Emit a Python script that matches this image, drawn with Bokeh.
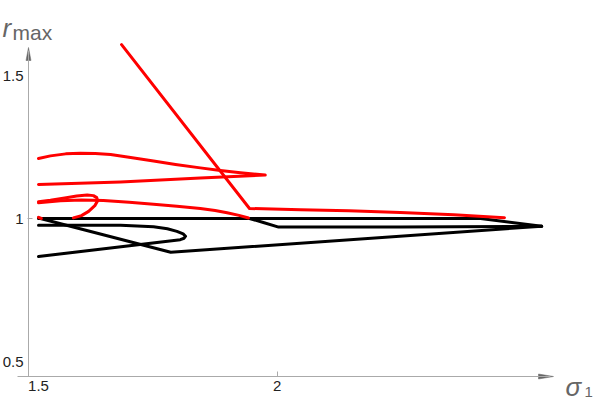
from bokeh.plotting import figure
from bokeh.models import Range1d, LinearAxis, FixedTicker, Label, CustomJSTickFormatter
from bokeh.embed import file_html
from bokeh.resources import INLINE

# ---------------- data (sigma_1, r_max) ----------------
# red curves
red_steep_x = [1.674, 1.942, 2.049, 2.150, 2.258, 2.370, 2.476]
red_steep_y = [1.608, 1.035, 1.031, 1.027, 1.021, 1.013, 1.003]

red_fish_x = [1.500, 1.525, 1.557, 1.588, 1.619, 1.651, 1.693, 1.741, 1.787, 1.839, 1.881,
              1.923, 1.975, 1.839, 1.672, 1.500]
red_fish_y = [1.210, 1.219, 1.226, 1.228, 1.227, 1.224, 1.213, 1.201, 1.189, 1.177, 1.168,
              1.160, 1.152, 1.142, 1.128, 1.119]

red_loop_x = [1.500, 1.525, 1.555, 1.580, 1.602, 1.615, 1.622, 1.624, 1.618, 1.605, 1.590, 1.573]
red_loop_y = [1.059, 1.064, 1.072, 1.079, 1.082, 1.080, 1.073, 1.062, 1.045, 1.025, 1.010, 1.002]

red_long_x = [1.500, 1.546, 1.590, 1.636, 1.690, 1.741, 1.790, 1.839, 1.870, 1.895, 1.920, 1.940]
red_long_y = [1.055, 1.062, 1.065, 1.063, 1.057, 1.050, 1.043, 1.035, 1.028, 1.020, 1.011, 1.002]

red_dot_x = [1.500, 1.506]
red_dot_y = [1.004, 1.000]

# black curves
black_flat_x = [1.500, 2.426, 2.554]
black_flat_y = [1.000, 1.000, 0.973]

black_kink_x = [1.942, 1.971, 2.003, 2.258, 2.554]
black_kink_y = [1.000, 0.986, 0.970, 0.970, 0.973]

black_v_x = [1.500, 1.777, 2.554]
black_v_y = [1.002, 0.882, 0.973]

black_loop_x = [1.500, 1.672, 1.741, 1.770, 1.790, 1.803, 1.808, 1.805, 1.797, 1.500]
black_loop_y = [0.976, 0.976, 0.971, 0.964, 0.955, 0.946, 0.938, 0.931, 0.926, 0.867]

x_ticks = [1.5, 2.0]
y_ticks = [0.5, 1.0, 1.5]

# ---------------- layout helpers (page pixels -> data) ----------------
PX_X = 477.4   # pixels per unit of sigma
PX_Y = 286.0   # pixels per unit of r
W, H = 598, 400


def sx(page_x):
    return 1.5 + (page_x - 38) / PX_X


def sy(page_y):
    return 1.0 - (page_y - 218) / PX_Y


p = figure(width=W, height=H,
           x_range=Range1d(sx(0), sx(W)), y_range=Range1d(sy(H), sy(0)),
           x_axis_type=None, y_axis_type=None,
           toolbar_location=None, output_backend="svg", min_border=0)
p.outline_line_color = None
p.background_fill_color = "white"
p.border_fill_color = "white"

AX_COL = "#aaaaaa"
FONT = "Liberation Sans"
fmt = CustomJSTickFormatter(code="return tick.toString()")

y_axis_x = sx(28)
x_axis_y = sy(376)

# y axis: line + tick
ya = LinearAxis(fixed_location=y_axis_x, ticker=FixedTicker(ticks=[1.0]),
                bounds=(x_axis_y, sy(50)), axis_line_color=AX_COL,
                major_tick_in=4, major_tick_out=1, major_tick_line_color=AX_COL,
                minor_tick_line_color=None, formatter=CustomJSTickFormatter(code="return ''"))
p.add_layout(ya, "left")
# y axis labels
yl = LinearAxis(fixed_location=y_axis_x, ticker=FixedTicker(ticks=y_ticks),
                axis_line_color=None, major_tick_line_color=None, minor_tick_line_color=None,
                major_tick_in=0, major_tick_out=0, major_label_standoff=5,
                major_label_text_font=FONT, major_label_text_font_size="15px",
                major_label_text_color="#222222", formatter=fmt)
p.add_layout(yl, "left")

# x axis: line + tick
xa = LinearAxis(fixed_location=x_axis_y, ticker=FixedTicker(ticks=[2.0]),
                bounds=(sx(17), sx(550)), axis_line_color=AX_COL,
                major_tick_in=5, major_tick_out=0, major_tick_line_color=AX_COL,
                minor_tick_line_color=None, formatter=CustomJSTickFormatter(code="return ''"))
p.add_layout(xa, "below")
xl = LinearAxis(fixed_location=x_axis_y, ticker=FixedTicker(ticks=x_ticks),
                axis_line_color=None, major_tick_line_color=None, minor_tick_line_color=None,
                major_tick_in=0, major_tick_out=0, major_label_standoff=4,
                major_label_text_font=FONT, major_label_text_font_size="15px",
                major_label_text_color="#222222", formatter=fmt)
p.add_layout(xl, "below")

# arrow heads of the axes
ARW = "#666666"
x_tip = sx(553)
p.patch(x=[x_tip, x_tip - 15 / PX_X, x_tip - 15 / PX_X],
        y=[x_axis_y, x_axis_y + 2.5 / PX_Y, x_axis_y - 2.5 / PX_Y],
        color=ARW, line_width=0.5)
y_tip = sy(47)
p.patch(x=[y_axis_x, y_axis_x - 2.5 / PX_X, y_axis_x + 2.5 / PX_X],
        y=[y_tip, y_tip - 13 / PX_Y, y_tip - 13 / PX_Y],
        color=ARW, line_width=0.5)

# curves
LW = 3
for xs, ys in [(black_flat_x, black_flat_y), (black_kink_x, black_kink_y),
               (black_v_x, black_v_y), (black_loop_x, black_loop_y)]:
    p.line(xs, ys, line_color="black", line_width=LW, line_join="round", line_cap="round")
for xs, ys in [(red_steep_x, red_steep_y), (red_fish_x, red_fish_y),
               (red_loop_x, red_loop_y), (red_long_x, red_long_y), (red_dot_x, red_dot_y)]:
    p.line(xs, ys, line_color="#ff0000", line_width=LW, line_join="round", line_cap="round")

# axis titles
TCOL = "#666666"
p.add_layout(Label(x=sx(2), y=sy(27), text="r", text_font=FONT, text_font_style="italic",
                   text_font_size="26px", text_color=TCOL, text_baseline="alphabetic"))
p.add_layout(Label(x=sx(12), y=sy(32), text="max", text_font=FONT,
                   text_font_size="21px", text_color=TCOL, text_baseline="alphabetic"))
p.add_layout(Label(x=sx(565), y=sy(386), text="σ", text_font=FONT, text_font_style="italic",
                   text_font_size="26px", text_color=TCOL, text_baseline="alphabetic"))
p.add_layout(Label(x=sx(584), y=sy(391), text="1", text_font=FONT,
                   text_font_size="15px", text_color=TCOL, text_baseline="alphabetic"))

open("out.html", "w").write(file_html(p, INLINE))
